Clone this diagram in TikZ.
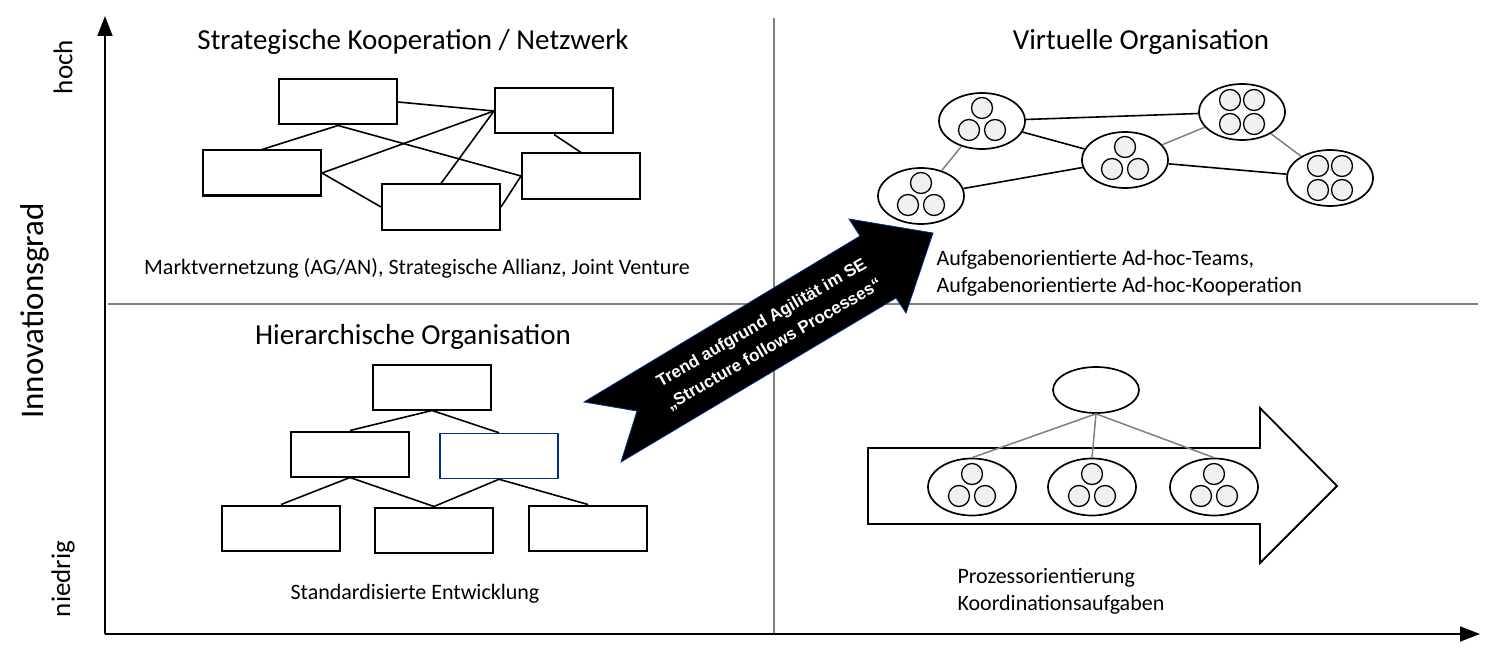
\documentclass[tikz,border=0pt]{standalone}
\usepackage{fontspec}
\setmainfont{Carlito}
\newfontfamily\arialfont{Liberation Sans}
\usetikzlibrary{positioning,shapes.geometric,arrows.meta}
\definecolor{boxblue}{RGB}{0,48,143}
\tikzset{
  box/.style={draw,line width=2pt,minimum width=118pt,minimum height=45pt,inner sep=0pt},
  link/.style={line width=1.6pt},
  glink/.style={line width=1.5pt,black!50},
  team/.style={draw,ellipse,line width=1.7pt,minimum width=86pt,minimum height=56pt,inner sep=0pt},
  member/.style={draw,circle,fill=black!6,line width=1.3pt,minimum size=21pt,inner sep=0pt},
  title/.style={font=\fontsize{29}{34}\selectfont},
  caption/.style={font=\fontsize{22}{27}\selectfont,align=left},
  axislabel/.style={rotate=90,font=\fontsize{27}{30}\selectfont},
  axis/.style={line width=1.8pt,-{Triangle[length=20pt,width=15pt]}},
  quad/.style={line width=1.4pt,black!50}
}
\newcommand{\teamdrei}[1]{
  \foreach \dx/\dy in {0/-13,-13/9,13/9}
    \node[member] at ([shift={(\dx,\dy)}]#1.center) {};
}
\newcommand{\teamvier}[1]{
  \foreach \dx/\dy in {-12/-12,12/-12,-12/12,12/12}
    \node[member] at ([shift={(\dx,\dy)}]#1.center) {};
}

\begin{document}
\begin{tikzpicture}[x=1pt,y=-1pt]
\useasboundingbox (0,0) rectangle (1500,658);
% axes and quadrants
\coordinate (O) at (105,634);
\coordinate (ytip) at (105,16);
\coordinate (xtip) at (1480,634);
\coordinate (vtop) at (774,18);
\coordinate (vbot) at (774,634);
\coordinate (hl) at (108,304);
\coordinate (hr) at (1478,304);
\draw[quad] (vtop) -- (vbot);
\draw[quad] (hl) -- (hr);
\draw[axis] (O) -- (ytip);
\draw[axis] (O) -- (xtip);
\node[axislabel] (hoch) at (63,67) {hoch};
\node[axislabel] (igrad) at (35,311) {\fontsize{33}{36}\selectfont Innovationsgrad};
\node[axislabel] (niedrig) at (63,579) {niedrig};

% strategische Kooperation
\node[title] (t1) at (413,42) {Strategische Kooperation / Netzwerk};
\node[box] (A) at (338,102) {};
\node[box] (B) at (554,111) {};
\node[box] (C) at (262,173) {};
\node[box] (D) at (581,176) {};
\node[box] (E) at (441,207) {};
\draw[link] (A.east) -- (B.west);
\draw[link] (A.south) -- (C.north);
\draw[link] (A.south) -- (D.west);
\draw[link] (C.east) -- (B.west);
\draw[link] (C.east) -- (E.west);
\draw[link] (E.north) -- (B.west);
\draw[link] (E.east) -- (D.west);
\draw[link] (B.south) -- (D.north);
\node[caption] (c1) at (417,268) {Marktvernetzung (AG/AN), Strategische Allianz, Joint Venture};

% virtuelle Organisation
\node[title] (t2) at (1141,42) {Virtuelle Organisation};
\node[team] (V1) at (982,121) {};
\node[team] (V2) at (921,196) {};
\node[team] (V3) at (1125,160) {};
\node[team] (V4) at (1242,112) {};
\node[team] (V5) at (1330,178) {};
\teamdrei{V1} \teamdrei{V2} \teamdrei{V3}
\teamvier{V4} \teamvier{V5}
\draw[link] (V1) -- (V4);
\draw[link] (V1) -- (V3);
\draw[link] (V2) -- (V3);
\draw[link] (V3) -- (V5);
\draw[glink] (V1) -- (V2);
\draw[glink] (V3) -- (V4);
\draw[glink] (V4) -- (V5);
\node[caption,anchor=west] (c2) at (933,273) {Aufgabenorientierte Ad-hoc-Teams,\\Aufgabenorientierte Ad-hoc-Kooperation};

% hierarchische Organisation
\node[title] (t3) at (413,337) {Hierarchische Organisation};
\node[box] (H1) at (432,387) {};
\node[box] (H2) at (350,454) {};
\node[box,draw=boxblue,line width=1.5pt] (H3) at (499,456) {};
\node[box] (H4) at (281,528) {};
\node[box] (H5) at (434,530) {};
\node[box] (H6) at (588,528) {};
\draw[link] (H1.south) -- (H2.north);
\draw[link] (H1.south) -- (H3.north);
\draw[link] (H2.south) -- (H4.north);
\draw[link] (H2.south) -- (H5.north);
\draw[link] (H3.south) -- (H5.north);
\draw[link] (H3.south) -- (H6.north);
\node[caption] (c3) at (415,594) {Standardisierte Entwicklung};

% Prozessorientierung
\draw[line width=1.8pt,fill=white] (868,448) -- (1260,448) -- (1260,408) -- (1337,486)
  -- (1260,563) -- (1260,524) -- (868,524) -- cycle;
\node[team,minimum height=46pt] (P0) at (1096,390) {};
\node[team,minimum width=88pt,minimum height=57pt] (P1) at (972,487) {};
\node[team,minimum width=88pt,minimum height=57pt] (P2) at (1092,487) {};
\node[team,minimum width=88pt,minimum height=57pt] (P3) at (1214,487) {};
\teamdrei{P1} \teamdrei{P2} \teamdrei{P3}
\foreach \p in {P1,P2,P3}
  \draw[glink] (P0.south) -- (\p.north);
\node[caption,anchor=west] (c4) at (954,591) {Prozessorientierung\\Koordinationsaufgaben};

% Trendpfeil
\draw[fill=black,draw=boxblue,line width=0.8pt] (584,402) -- (860,236) -- (849,219) -- (933,233)
  -- (906,313) -- (896,298) -- (621,462) -- (637,411) -- cycle;
\node[rotate=30,text=white,align=center,font=\arialfont\bfseries\fontsize{17}{25}\selectfont] (trend) at (768,334)
  {Trend aufgrund Agilität im SE\\„Structure follows Processes“};
\end{tikzpicture}
\end{document}
